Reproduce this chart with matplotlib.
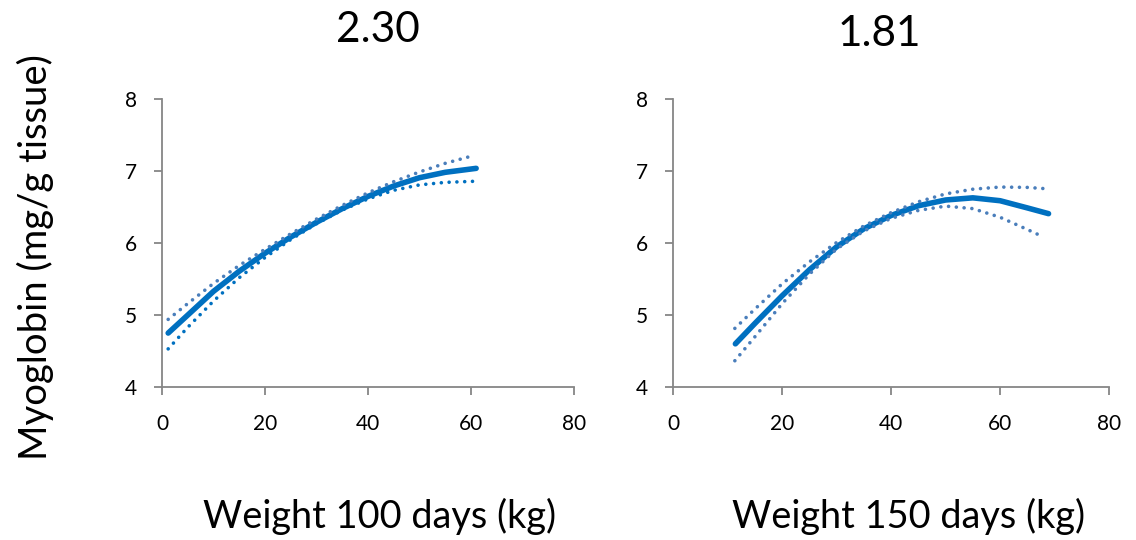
import matplotlib
matplotlib.use("Agg")
import matplotlib.pyplot as plt

plt.rcParams['font.family'] = ['Lato', 'DejaVu Sans']

# ---- data ----
titles = ["2.30", "1.81"]
xlabels = ["Weight 100 days (kg)", "Weight 150 days (kg)"]
ylabel = "Myoglobin (mg/g tissue)"
xticks = [0, 20, 40, 60, 80]
yticks = [4, 5, 6, 7, 8]

x_left = [1.2, 5, 10, 15, 20, 25, 30, 35, 40, 45, 50, 55, 61]
fit_left = [4.75, 5.00, 5.33, 5.61, 5.86, 6.085, 6.29, 6.48, 6.65, 6.795, 6.91, 6.985, 7.04]
x_left_ci = [1.2, 5, 10, 15, 20, 25, 30, 35, 40, 45, 50, 55, 60.6]
upper_left = [4.94, 5.16, 5.44, 5.69, 5.915, 6.13, 6.335, 6.525, 6.70, 6.855, 6.99, 7.11, 7.22]
lower_left = [4.53, 4.83, 5.195, 5.52, 5.80, 6.05, 6.27, 6.46, 6.615, 6.735, 6.81, 6.845, 6.86]

x_right = [11.4, 15, 20, 25, 30, 35, 40, 45, 50, 55, 60, 65, 68.9]
fit_right = [4.60, 4.885, 5.27, 5.63, 5.95, 6.20, 6.385, 6.52, 6.60, 6.63, 6.59, 6.49, 6.41]
x_right_ci = [11.3, 15, 20, 25, 30, 35, 40, 45, 50, 55, 60, 65, 67.85]
upper_right = [4.815, 5.085, 5.435, 5.74, 6.01, 6.24, 6.425, 6.575, 6.685, 6.75, 6.78, 6.775, 6.76]
lower_right = [4.365, 4.70, 5.16, 5.57, 5.92, 6.17, 6.345, 6.455, 6.515, 6.48, 6.36, 6.19, 6.09]

W, H = 1136, 540
fig = plt.figure(figsize=(W / 100, H / 100), dpi=100)

axes_px = [(162, 99.3, 574, 387), (673.3, 99.3, 1109, 387)]
title_pos = [(378, 41.7), (879.5, 45.7)]
xlabel_pos = [(379.5, 528), (908.5, 528)]

solid_c = '#0070C0'
dot_c = '#4A7EBB'
axis_c = '#868686'

panels = [
    (x_left, fit_left, x_left_ci, upper_left, lower_left, dot_c, solid_c),
    (x_right, fit_right, x_right_ci, upper_right, lower_right, dot_c, dot_c),
]

dot_style = (0, (0.01, 2.15))

for i, (x, fit, xci, up, lo, cu, cl) in enumerate(panels):
    l, t, r, b = axes_px[i]
    ax = fig.add_axes([l / W, 1 - b / H, (r - l) / W, (b - t) / H])
    ax.plot(x, fit, color=solid_c, lw=4.0, solid_capstyle='round',
            solid_joinstyle='round', zorder=2)
    ax.plot(xci, up, color=cu, lw=2.6, linestyle=dot_style, dash_capstyle='round', zorder=3)
    ax.plot(xci, lo, color=cl, lw=2.6, linestyle=dot_style, dash_capstyle='round', zorder=3)
    ax.set_xlim(0, 80)
    ax.set_ylim(4, 8)
    ax.set_xticks(xticks)
    ax.set_yticks(yticks)
    for s in ['top', 'right']:
        ax.spines[s].set_visible(False)
    for s in ['left', 'bottom']:
        ax.spines[s].set_color(axis_c)
        ax.spines[s].set_linewidth(1.3)
    ax.tick_params(axis='both', colors=axis_c, length=5.8, width=1.3, labelsize=15,
                   labelcolor='black')
    ax.tick_params(axis='y', pad=12.5)
    ax.tick_params(axis='x', pad=13.5)
    ax.patch.set_visible(False)

    tx, ty = title_pos[i]
    fig.text(tx / W, 1 - ty / H, titles[i], ha='center', va='baseline', fontsize=30.5)
    lx, ly = xlabel_pos[i]
    fig.text(lx / W, 1 - ly / H, xlabels[i], ha='center', va='baseline', fontsize=27.3)

fig.text(46.7 / W, 1 - 257.5 / H, ylabel, rotation=90, rotation_mode='anchor',
         ha='center', va='baseline', fontsize=27.5)

fig.savefig('out.png', dpi=100, facecolor='white')
